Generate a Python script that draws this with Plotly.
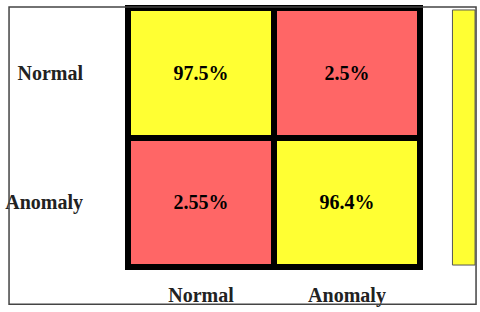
import plotly.graph_objects as go

categories = ["Normal", "Anomaly"]
values = [[97.5, 2.5],
          [2.55, 96.4]]
RED = "#FF6666"
YELLOW = "#FFFF33"
FONT = "Liberation Serif"

W, H = 480, 312
L, R, T, B = 123, 60, 5, 43
pw, ph = W - L - R, H - T - B

def px(x):
    return (x - L) / pw

def py(y):
    return (H - B - y) / ph

fig = go.Figure(go.Heatmap(
    z=values, x=categories, y=categories,
    colorscale=[[0, RED], [0.5, RED], [0.5, YELLOW], [1, YELLOW]],
    zmin=0, zmax=100, showscale=False,
    xgap=6, ygap=6,
    texttemplate="<b>%{z}%</b>",
    textfont=dict(family=FONT, size=20, color="black"),
    hoverinfo="skip",
))

fig.update_layout(
    width=W, height=H,
    margin=dict(l=L, r=R, t=T, b=B),
    paper_bgcolor="white", plot_bgcolor="black",
    font=dict(family=FONT, color="#222"),
    xaxis=dict(showgrid=False, zeroline=False, ticks="", showline=True,
               linecolor="black", linewidth=3, mirror=True,
               tickfont=dict(family=FONT, size=20, color="#222"),
               ticklabelstandoff=8, tickprefix="<b>", ticksuffix="</b>"),
    yaxis=dict(showgrid=False, zeroline=False, ticks="", showline=True,
               linecolor="black", linewidth=3, mirror=True,
               autorange="reversed",
               tickfont=dict(family=FONT, size=20, color="#222"),
               ticklabelstandoff=38, tickprefix="<b>", ticksuffix="</b>"),
    shapes=[
        dict(type="rect", xref="paper", yref="paper",
             x0=px(2), x1=px(477), y0=py(307), y1=py(4),
             line=dict(color="#444", width=1.5), fillcolor="rgba(0,0,0,0)"),
        dict(type="rect", xref="paper", yref="paper",
             x0=px(453), x1=px(476), y0=py(267), y1=py(7),
             line=dict(color="#555", width=1), fillcolor=YELLOW),
    ],
)

fig.write_html("out.html",
               config={"displayModeBar": False, "staticPlot": True},
               post_script="document.body.style.margin='0';document.body.style.overflow='hidden';")
